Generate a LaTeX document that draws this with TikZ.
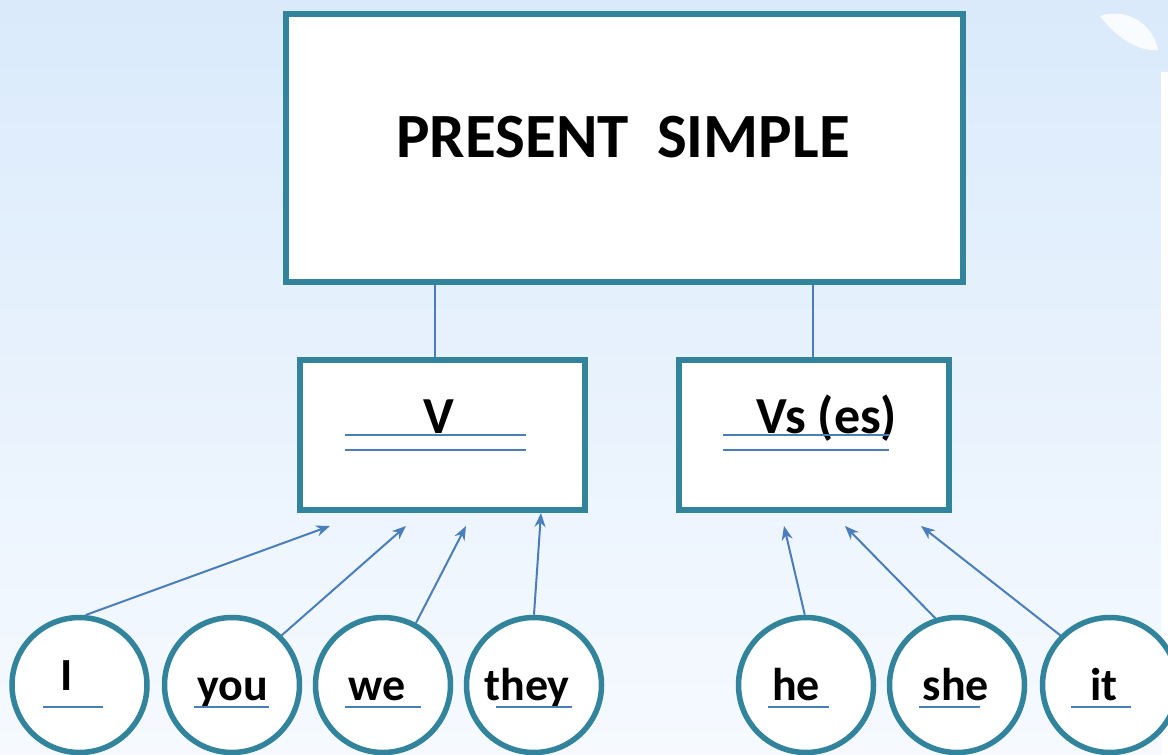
\documentclass[tikz,border=0pt]{standalone}
\usepackage{fontspec}
\setmainfont{Carlito}
\usetikzlibrary{arrows.meta,calc}
\definecolor{teal1}{RGB}{49,132,155}
\definecolor{lineblue}{RGB}{74,126,187}
\definecolor{bgtop}{RGB}{218,234,251}
\definecolor{bgbot}{RGB}{246,250,255}
\tikzset{
  bigbox/.style={draw=teal1, line width=5.5pt, fill=white, rectangle, inner sep=0pt},
  wordcircle/.style={draw=teal1, line width=5.5pt, fill=white, circle, minimum size=135pt, inner sep=0pt},
  thinline/.style={draw=lineblue, line width=2pt},
  arr/.style={draw=lineblue, line width=2pt, -{Stealth[length=14pt,width=11pt,inset=4.5pt]}},
  word/.style={font=\bfseries\fontsize{46}{46}\selectfont, anchor=base, inner sep=0pt},
  boxtext/.style={font=\bfseries\fontsize{52}{52}\selectfont, anchor=base, inner sep=0pt}
}
\begin{document}
\begin{tikzpicture}[x=1pt,y=-1pt]
\useasboundingbox (0,0) rectangle (1168,755);
\clip (0,0) rectangle (1168,755);
% background
\shade[top color=bgtop, bottom color=bgbot] (0,0) rectangle (1168,755);
\fill[white] (1161,72) rectangle (1168,755);
% leaf
\fill[white, opacity=0.85] (1100,16) .. controls (1122,8) and (1152,20) .. (1158,50)
  .. controls (1140,52) and (1116,38) .. (1100,16) -- cycle;
% top box
\node[bigbox, minimum width=677pt, minimum height=268pt] (top) at (624.5,148) {};
\node[font=\bfseries\fontsize{63}{63}\selectfont, anchor=base, inner sep=0pt] (title) at (623,157) {PRESENT\ \ SIMPLE};
% second-level boxes
\node[bigbox, minimum width=285pt, minimum height=150pt] (vbox) at (442.5,435) {};
\node[bigbox, minimum width=270pt, minimum height=150pt] (vsbox) at (814,435) {};
\draw[thinline] (top.south -| 435,0) -- (vbox.north -| 435,0);
\draw[thinline] (top.south -| 813,0) -- (vsbox.north -| 813,0);
\node[boxtext] (vtext) at (439,433) {V};
\node[boxtext] (vstext) at (827,433) {Vs (es)};
\draw[thinline] (345,435) -- (526,435);
\draw[thinline] (345,450) -- (526,450);
\draw[thinline] (723,435) -- (889,435);
\draw[thinline] (723,450) -- (889,450);
% circles
\node[wordcircle] (cI) at (79.5,685) {};
\node[wordcircle] (cyou) at (232,685) {};
\node[wordcircle] (cwe) at (383,685) {};
\node[wordcircle] (cthey) at (534,685) {};
\node[wordcircle] (che) at (806,685) {};
\node[wordcircle] (cshe) at (957,685) {};
\node[wordcircle] (cit) at (1110,685) {};
% words
\node[word] (tI) at (67,690) {I};
\node[word] (tyou) at (232.5,700) {you};
\node[word] (twe) at (377,700) {we};
\node[word] (tthey) at (527,700) {they};
\node[word] (the) at (796,700) {he};
\node[word] (tshe) at (956,700) {she};
\node[word] (tit) at (1104,700) {it};
% underlines
\draw[thinline] (43,707) -- (103,707);
\draw[thinline] (194,707) -- (269,707);
\draw[thinline] (345,707) -- (421,707);
\draw[thinline] (496,707) -- (572,707);
\draw[thinline] (768,707) -- (829,707);
\draw[thinline] (919,707) -- (980,707);
\draw[thinline] (1071,707) -- (1131,707);
% arrow tips
\coordinate (aI) at (330,526);
\coordinate (ayou) at (406,526);
\coordinate (awe) at (466,526);
\coordinate (athey) at (541,513);
\coordinate (ahe) at (784,526);
\coordinate (ashe) at (845,526);
\coordinate (ait) at (921,526);
\draw[arr] (cI.85) -- (aI);
\draw[arr] (cyou.45) -- (ayou);
\draw[arr] (cwe.62) -- (awe);
\draw[arr] (cthey.90) -- (athey);
\draw[arr] (che.91) -- (ahe);
\draw[arr] (cshe.108) -- (ashe);
\draw[arr] (cit.135) -- (ait);
\end{tikzpicture}
\end{document}
